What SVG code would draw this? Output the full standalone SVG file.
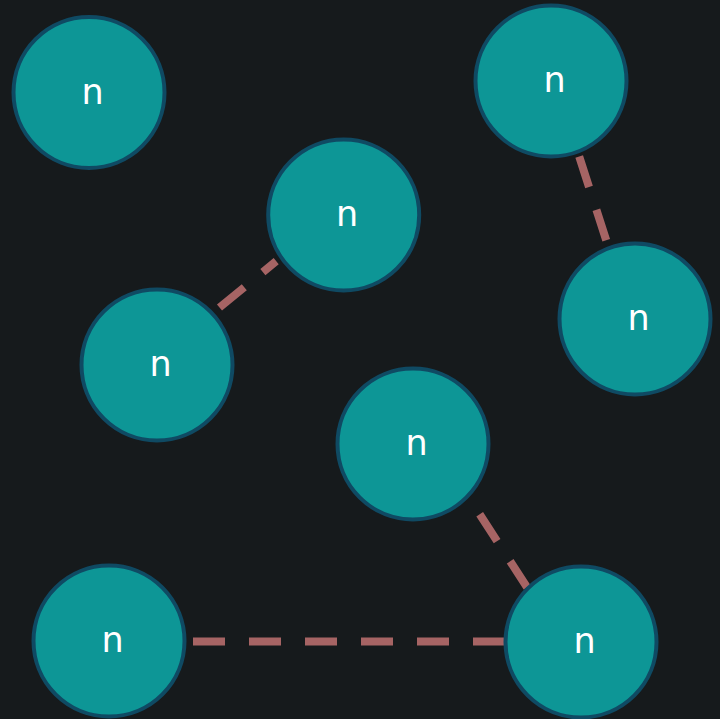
<svg xmlns="http://www.w3.org/2000/svg" width="720" height="719" viewBox="0 0 720 719">
  <style>
    .edge { stroke: #a66464; stroke-width: 8; stroke-dasharray: 32 24; fill: none; }
    .node circle { fill: #0d9696; stroke: #0f4a63; stroke-width: 4; }
    .node text { fill: #ffffff; font-family: "DejaVu Sans", "Liberation Sans", sans-serif; font-size: 35px; text-anchor: middle; }
  </style>
  <rect width="720" height="719" fill="#161a1c"/>
  <g id="edges">
    <line class="edge" x1="219.5" y1="307.5" x2="276.2" y2="261.2"/>
    <line class="edge" x1="579.2" y1="156.5" x2="606.3" y2="240.5"/>
    <line class="edge" x1="479.7" y1="514.3" x2="527" y2="587.3"/>
    <line class="edge" x1="193" y1="641.5" x2="505" y2="641.5"/>
  </g>
  <g id="n1" class="node"><circle cx="89" cy="92.5" r="75.5"/><text x="92.5" y="103.5">n</text></g>
  <g id="n2" class="node"><circle cx="551" cy="81" r="75.5"/><text x="554.5" y="92">n</text></g>
  <g id="n3" class="node"><circle cx="343.7" cy="215" r="75.5"/><text x="347.2" y="226">n</text></g>
  <g id="n4" class="node"><circle cx="157" cy="365" r="75.5"/><text x="160.5" y="376">n</text></g>
  <g id="n5" class="node"><circle cx="635" cy="319" r="75.5"/><text x="638.5" y="330">n</text></g>
  <g id="n6" class="node"><circle cx="413" cy="444" r="75.5"/><text x="416.5" y="455">n</text></g>
  <g id="n7" class="node"><circle cx="109" cy="641" r="75.5"/><text x="112.5" y="652">n</text></g>
  <g id="n8" class="node"><circle cx="581" cy="642" r="75.5"/><text x="584.5" y="653">n</text></g>
</svg>
